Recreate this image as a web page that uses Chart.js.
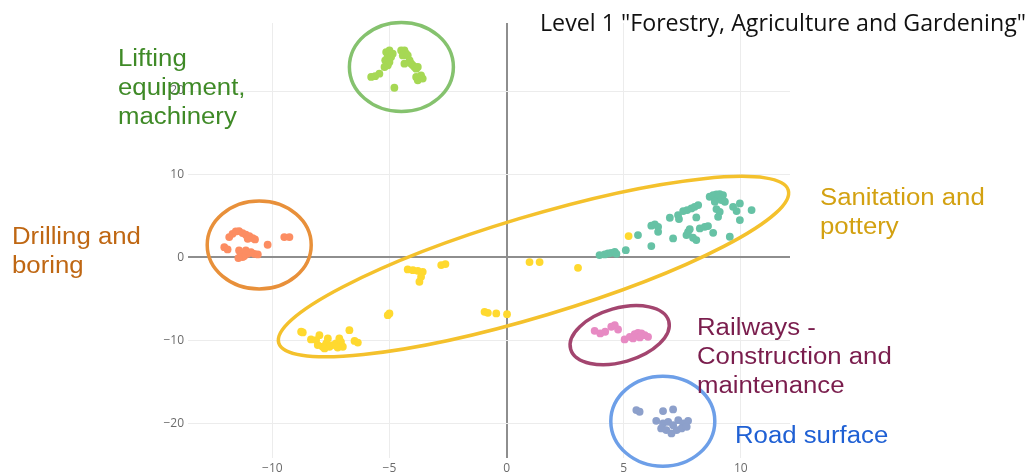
<!DOCTYPE html>
<html>
<head>
<meta charset="utf-8">
<script src="https://cdn.jsdelivr.net/npm/chart.js@4"></script>
<style>
  html, body { margin: 0; padding: 0; background: #ffffff; }
  #chartContainer { width: 1031px; height: 475px; position: relative; }
</style>
</head>
<body>
<div id="chartContainer"><canvas id="grafico"></canvas></div>
<script>
// Ticks
const xTicks = [-10, -5, 0, 5, 10];
const yTicks = [-20, -10, 0, 10, 20];

// Lifting equipment, machinery
const liftX = [-5.14, -5.0, -5.07, -5.18, -5.1, -5.0, -4.93, -5.07, -5.21, -5.43, -5.61, -5.78, -4.86, -4.5, -4.36,
  -4.29, -4.43, -4.22, -4.14, -4.07, -4.0, -3.93, -3.86, -3.79, -4.36, -3.86, -3.79, -3.65, -3.58, -4.79];
const liftY = [24.7, 24.9, 24.3, 23.7, 23.9, 23.5, 24.1, 23.1, 22.9, 22.1, 21.8, 21.7, 24.5, 24.9, 24.9,
  24.5, 24.3, 24.3, 23.7, 23.3, 23.1, 22.9, 22.7, 22.9, 23.3, 21.7, 21.3, 21.9, 21.5, 20.4];

// Drilling and boring
const drillX = [-11.84, -11.7, -11.56, -11.42, -11.27, -11.13, -10.98, -10.84, -10.74, -11.05, -12.05, -11.91, -11.42,
  -11.34, -11.2, -11.05, -10.91, -11.13, -10.77, -10.62, -11.27, -11.45, -10.2, -9.49, -9.27];
const drillY = [2.41, 2.81, 3.09, 3.13, 2.89, 2.69, 2.53, 2.29, 2.13, 2.2, 1.2, 0.92, 0.8,
  0.32, 0.12, 0.4, 0.6, 0.8, 0.4, 0.32, 0.0, -0.12, 1.49, 2.41, 2.41];

// Forestry / yellow points
const yellowX = [-4.22, -4.0, -3.79, -3.58, -3.65, -3.72, -2.79, -2.61, -5.0, -5.07, -0.94, -0.8, -0.44, 0.02,
  -8.7, -8.77, -8.35, -8.13, -7.99, -8.06, -7.85, -7.7, -7.63, -7.56, -7.42, -7.28, -7.14, -7.07, -6.99, -7.21,
  -6.71, -6.49, -6.35, -7.77, 5.21, 3.05, 0.98, 1.41];
const yellowY = [-1.49, -1.57, -1.65, -1.77, -2.37, -2.97, -0.96, -0.84, -6.79, -6.99, -6.59, -6.71, -6.79, -6.87,
  -9.07, -8.99, -9.92, -10.0, -9.4, -10.6, -10.8, -10.4, -9.8, -10.8, -10.6, -10.4, -9.8, -10.2, -10.8, -10.9,
  -8.8, -10.1, -10.3, -11.0, 2.53, -1.29, -0.6, -0.6];

// Sanitation and pottery
const sanX = [3.97, 4.19, 4.33, 4.47, 4.62, 4.69, 5.09, 5.61, 6.18, 6.18, 6.33, 6.47, 6.47, 6.97, 7.11, 7.32, 7.36,
  7.54, 7.71, 7.89, 8.03, 8.18, 8.1, 7.75, 7.68, 7.82, 7.96, 8.1, 8.25, 8.46, 8.6, 8.82, 8.67, 8.82, 8.96, 9.1,
  9.24, 9.03, 9.17, 9.32, 8.89, 8.96, 9.1, 9.03, 9.53, 9.67, 9.82, 9.96, 9.96, 10.46];
const sanY = [0.24, 0.32, 0.44, 0.52, 0.64, 0.4, 0.84, 2.65, 1.33, 3.78, 3.94, 3.65, 3.05, 4.74, 2.25, 5.06, 4.58,
  5.54, 5.66, 5.86, 6.06, 6.27, 4.78, 3.05, 2.65, 3.37, 2.33, 2.05, 3.45, 3.65, 3.74, 2.93, 7.27, 7.47, 7.55, 7.59,
  7.47, 7.07, 6.87, 6.67, 6.67, 5.78, 5.46, 4.85, 2.45, 6.06, 5.54, 6.47, 4.46, 5.66];

// Railways - Construction and maintenance
const railX = [3.76, 4.0, 4.21, 4.47, 4.62, 4.76, 5.04, 5.26, 5.47, 5.61, 5.76, 5.9, 6.04, 5.69, 5.4];
const railY = [-8.88, -9.19, -8.99, -8.39, -8.19, -8.72, -9.92, -9.6, -9.28, -9.12, -9.2, -9.4, -9.6, -9.68, -9.8];

// Road surface
const roadX = [5.54, 5.68, 6.68, 7.11, 6.39, 6.68, 6.9, 7.11, 7.33, 7.54, 7.75, 6.6, 7.04, 7.26, 7.47, 7.69, 6.82];
const roadY = [-18.43, -18.63, -18.55, -18.35, -19.72, -20.04, -19.84, -20.24, -19.64, -20.04, -19.72, -20.64,
  -21.24, -20.84, -20.64, -20.44, -20.84];

const pares = (xs, ys) => xs.map((x, i) => ({ x: x, y: ys[i] }));

// Elipses (centro em unidades dos eixos, raios em px)
const elipses = [
  { cx: -4.49, cy: 22.9, rx: 52, ry: 44.5, ang: 0, cor: '#85c26e' },
  { cx: -10.56, cy: 1.45, rx: 52, ry: 44, ang: 0, cor: '#e8903a' },
  { cx: 1.15, cy: -1.14, rx: 266, ry: 50, ang: -16.7, cor: '#f4c12c' },
  { cx: 4.83, cy: -9.4, rx: 51, ry: 27, ang: -16, cor: '#a3456f' },
  { cx: 6.67, cy: -19.76, rx: 52, ry: 45, ang: 0, cor: '#6d9fe8' }
];

// Rótulos (px)
const rotulos = [
  { linhas: ['Lifting', 'equipment,', 'machinery'], x: 118, y: 66, passo: 29, cor: '#3f8a27' },
  { linhas: ['Drilling and', 'boring'], x: 12, y: 244, passo: 29, cor: '#bf6713' },
  { linhas: ['Sanitation and', 'pottery'], x: 820, y: 205, passo: 29, cor: '#d3a111' },
  { linhas: ['Railways -', 'Construction and', 'maintenance'], x: 697, y: 335, passo: 29, cor: '#7a1d4d' },
  { linhas: ['Road surface'], x: 735, y: 443, passo: 29, cor: '#1f60d4' }
];

const anotacoes = {
  id: 'anotacoes',
  afterDatasetsDraw(chart) {
    const ctx = chart.ctx;
    const sx = chart.scales.x, sy = chart.scales.y;
    ctx.save();
    elipses.forEach(e => {
      ctx.beginPath();
      ctx.ellipse(sx.getPixelForValue(e.cx), sy.getPixelForValue(e.cy), e.rx, e.ry,
        e.ang * Math.PI / 180, 0, Math.PI * 2);
      ctx.lineWidth = 3.5;
      ctx.strokeStyle = e.cor;
      ctx.stroke();
    });
    ctx.restore();
  },
  afterDraw(chart) {
    const ctx = chart.ctx;
    ctx.save();
    ctx.textBaseline = 'alphabetic';
    ctx.textAlign = 'left';
    ctx.font = '23px "Liberation Sans", Arial, sans-serif';
    rotulos.forEach(r => {
      ctx.fillStyle = r.cor;
      r.linhas.forEach((t, i) => {
        ctx.save();
        ctx.translate(r.x, r.y + i * r.passo);
        ctx.scale(1.12, 1);
        ctx.fillText(t, 0, 0);
        ctx.restore();
      });
    });
    // título
    ctx.fillStyle = '#111111';
    ctx.font = '24px "Open Sans", sans-serif';
    ctx.fillText('Level 1 "Forestry, Agriculture and Gardening"', 540, 31, 486);
    ctx.restore();
  }
};

const formatar = v => (v < 0 ? '\u2212' + Math.abs(v) : String(v));
const corGrade = c => (c.tick && c.tick.value === 0 ? '#8e8e8e' : '#ececec');
const larguraGrade = c => (c.tick && c.tick.value === 0 ? 2 : 1);

const ponto = (dados, cor) => ({
  data: dados,
  backgroundColor: cor,
  borderWidth: 0,
  pointRadius: 3.9,
  pointHoverRadius: 3.9
});

new Chart(document.getElementById('grafico').getContext('2d'), {
  type: 'scatter',
  data: {
    datasets: [
      ponto(pares(yellowX, yellowY), '#ffd92f'),
      ponto(pares(sanX, sanY), '#66c2a5'),
      ponto(pares(drillX, drillY), '#fc8d62'),
      ponto(pares(roadX, roadY), '#8da0cb'),
      ponto(pares(railX, railY), '#e78ac3'),
      ponto(pares(liftX, liftY), '#a6d854')
    ]
  },
  options: {
    responsive: true,
    maintainAspectRatio: false,
    animation: false,
    layout: { padding: { left: 0, top: 23, right: 241, bottom: 0 } },
    plugins: { legend: { display: false }, tooltip: { enabled: false } },
    scales: {
      x: {
        type: 'linear',
        min: -13.6,
        max: 12.1,
        afterBuildTicks: s => { s.ticks = xTicks.map(v => ({ value: v })); },
        afterFit: s => { s.height = 17; },
        border: { display: false },
        grid: { color: corGrade, lineWidth: larguraGrade, drawTicks: false },
        ticks: {
          padding: 3,
          color: '#6b6b6b',
          font: { family: '"Open Sans", sans-serif', size: 12 },
          callback: formatar
        }
      },
      y: {
        type: 'linear',
        min: -24.2,
        max: 28.2,
        afterBuildTicks: s => { s.ticks = yTicks.map(v => ({ value: v })); },
        afterFit: s => { s.width = 188; },
        border: { display: false },
        grid: { color: corGrade, lineWidth: larguraGrade, drawTicks: false },
        ticks: {
          padding: 4,
          color: '#6b6b6b',
          font: { family: '"Open Sans", sans-serif', size: 12 },
          callback: formatar
        }
      }
    }
  },
  plugins: [anotacoes]
});
</script>
</body>
</html>
